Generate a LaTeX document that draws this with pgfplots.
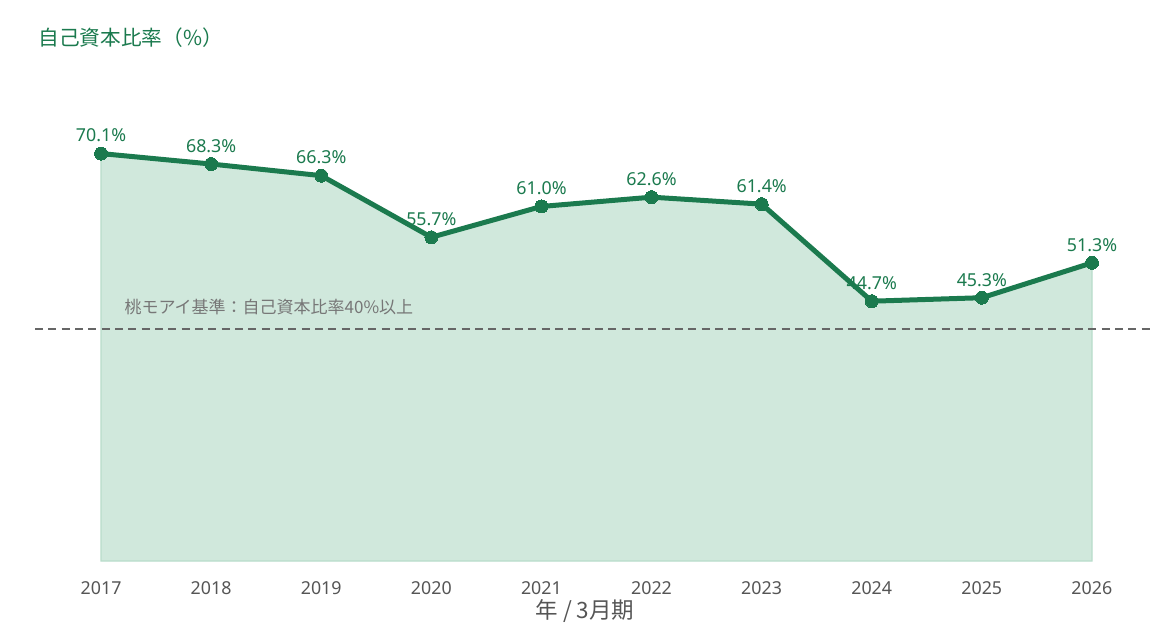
\documentclass[border=0pt]{standalone}
\usepackage{fontspec}
\setmainfont{Noto Sans CJK JP}
\newfontfamily\numfont{Noto Sans}
\usepackage{pgfplots}
\pgfplotsset{compat=1.18}

\definecolor{lineGreen}{HTML}{1B7A4E}
\definecolor{fillGreen}{HTML}{D0E8DC}
\definecolor{edgeGreen}{HTML}{B8DCCA}
\definecolor{tickGray}{HTML}{555555}
\definecolor{dashGray}{HTML}{666666}
\definecolor{noteGray}{HTML}{777777}

% equity ratio by fiscal year (March year-end)
\pgfplotstableread{
year ratio
2017 70.1
2018 68.3
2019 66.3
2020 55.7
2021 61.0
2022 62.6
2023 61.4
2024 44.7
2025 45.3
2026 51.3
}\equitytable

\begin{document}
\begin{tikzpicture}
% canvas: 1170 x 630 units of 0.6pt
\begin{scope}[x=0.6pt,y=0.6pt]
\path[use as bounding box] (0,0) rectangle (1170,630);
\end{scope}

\begin{axis}[
  at={(21pt,41.4pt)}, anchor=south west,
  scale only axis,
  width=670.2pt, height=300.6pt,
  xmin=2016.4, xmax=2026.545,
  ymin=0, ymax=86.2,
  axis line style={draw=none},
  ytick=\empty,
  xtick={2017,...,2026},
  major tick length=0pt,
  xticklabel style={font=\numfont\fontsize{10.7}{12}\selectfont, text=tickGray, yshift=-9pt},
  /pgf/number format/assume math mode=true,
  /pgf/number format/1000 sep={},
  clip=false,
]
% shaded area under the series
\addplot[fill=fillGreen, draw=edgeGreen, line width=0.8pt]
  table[x=year, y=ratio] {\equitytable} \closedcycle;

% threshold: 40% equity ratio
\addplot[dashGray, line width=1.2pt, dash pattern=on 4.8pt off 3.2pt]
  coordinates {(2016.4,40) (2026.545,40)};

% main series with value labels
\addplot[lineGreen, line width=3pt, mark=*, mark size=3.9pt,
  mark options={fill=lineGreen, draw=lineGreen, line width=0pt},
  nodes near coords={\pgfmathprintnumber[fixed,fixed zerofill,precision=1,assume math mode=true]{\pgfplotspointmeta}\%},
  every node near coord/.append style={anchor=base, yshift=7pt, inner sep=0pt,
    text=lineGreen, font=\numfont\fontsize{10.7}{12}\selectfont},
  point meta=y]
  table[x=year, y=ratio] {\equitytable};

\node[anchor=base west, inner sep=0pt, text=noteGray, font=\fontsize{10.2}{12}\selectfont]
  at (axis cs:2017.21,42.5) {桃モアイ基準：自己資本比率40\%以上};
\end{axis}

% chart title and axis caption
\begin{scope}[x=0.6pt,y=0.6pt]
\node[anchor=west, inner sep=0pt, text=lineGreen, font=\fontsize{12.4}{14}\selectfont]
  at (38,592) {自己資本比率（\%）};
\node[anchor=center, inner sep=0pt, text=tickGray, font=\fontsize{13.5}{15}\selectfont]
  at (585,19) {年 / 3月期};
\end{scope}
\end{tikzpicture}
\end{document}
